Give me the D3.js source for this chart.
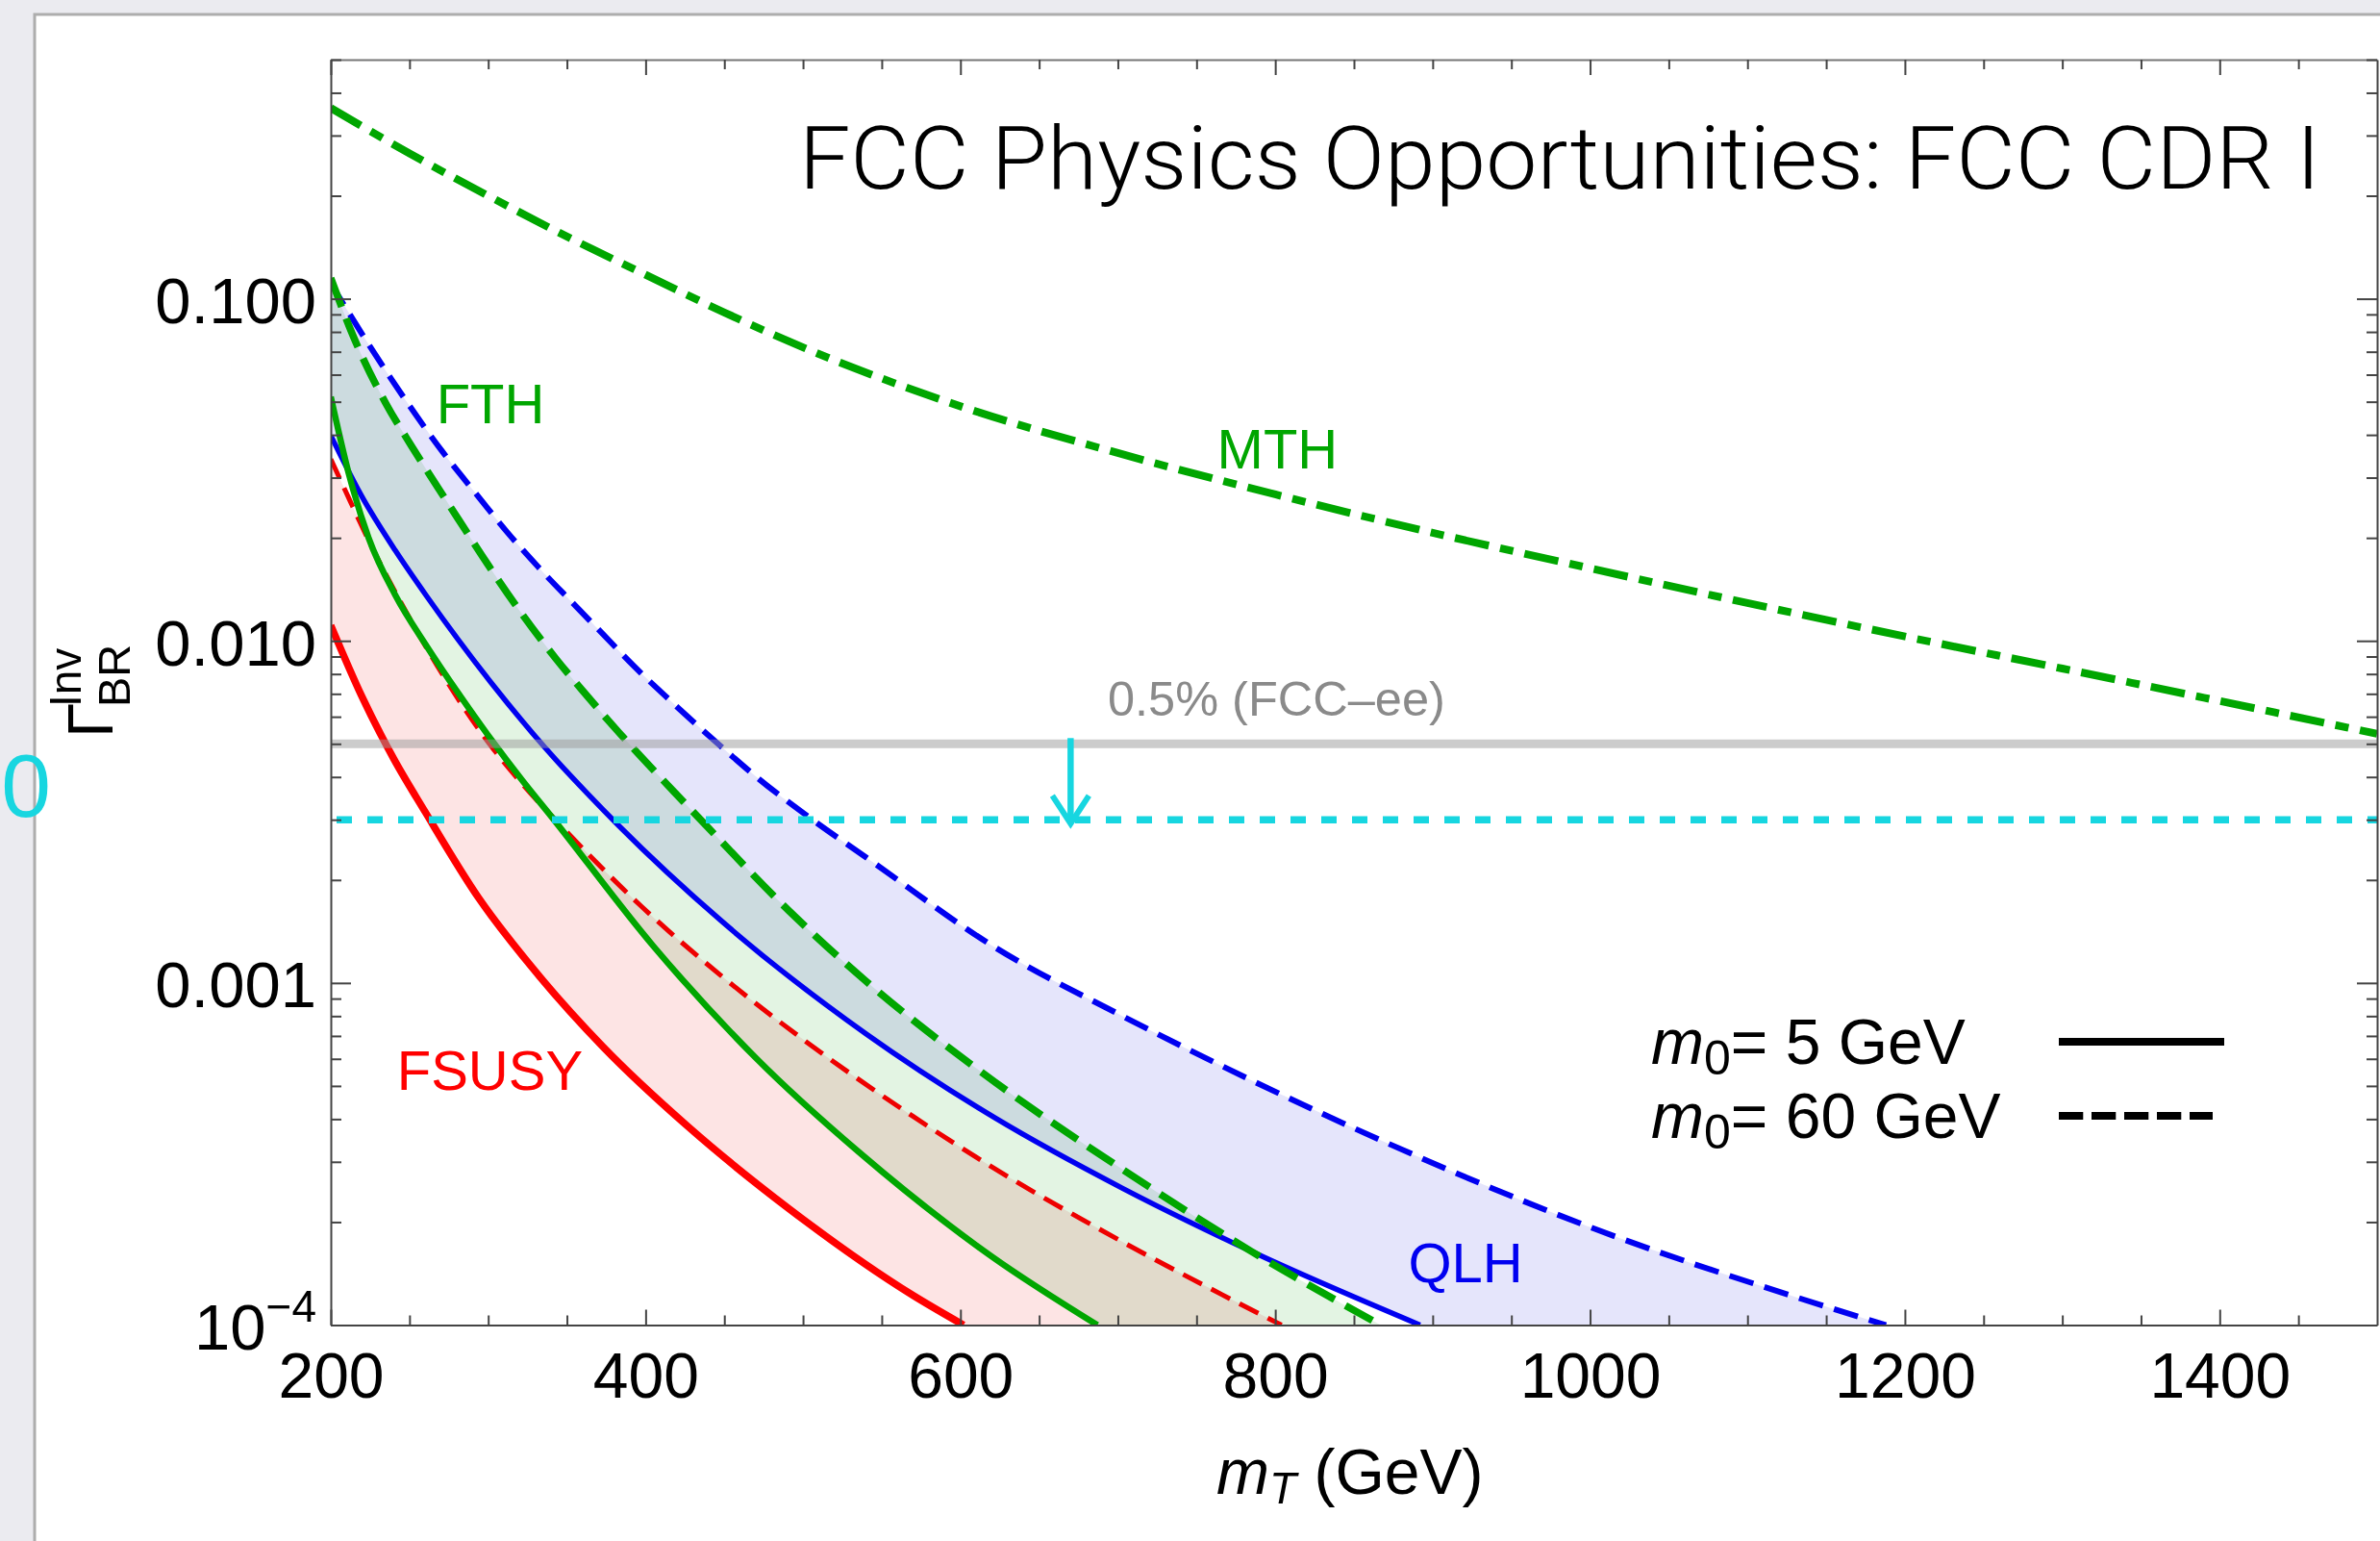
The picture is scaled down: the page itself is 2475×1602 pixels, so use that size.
<!DOCTYPE html>
<html lang="en">
<head>
<meta charset="utf-8">
<title>FCC Physics Opportunities: FCC CDR I</title>
<script src="https://cdn.jsdelivr.net/npm/d3@7"></script>
<style>
body { margin: 0; background: #ebebf0; }
svg { display: block; }
text { font-family: "Liberation Sans", Arial, Helvetica, sans-serif; }
</style>
</head>
<body>
<svg id="chart" width="2475" height="1602"></svg>
<script>
// values: m_T in GeV, invisible BR
var mMTH = [200, 250, 300, 350, 400, 450, 500, 600, 700, 800, 900, 1000, 1100, 1200, 1300, 1400, 1500];
var brMTH = [0.361, 0.266, 0.200, 0.152, 0.1175, 0.0912, 0.0721, 0.0485, 0.0354, 0.0268, 0.0207, 0.0163, 0.0129, 0.0103, 0.0083, 0.00667, 0.00535];

var mFTH5 = [200, 212, 224, 241, 261, 281, 302, 322, 340, 405, 470, 537, 620, 687];
var brFTH5 = [0.0517, 0.0301, 0.0200, 0.0136, 0.00964, 0.00703, 0.00514, 0.00389, 0.00307, 0.00128, 0.000604, 0.000316, 0.0001585, 0.0001];

var mFTH60 = [200, 214, 235, 251, 281, 302, 322, 343, 363, 383, 404, 424, 438, 491, 540, 622, 703, 785, 867];
var brFTH60 = [0.115, 0.0782, 0.0494, 0.0373, 0.0227, 0.01614, 0.01189, 0.00887, 0.00689, 0.0054, 0.00424, 0.00339, 0.0029, 0.001626, 0.001012, 0.000513, 0.000285, 0.000164, 0.0001];

var mQLH5 = [200, 220, 241, 261, 281, 302, 322, 343, 363, 383, 448, 540, 622, 703, 785, 892];
var brQLH5 = [0.0398, 0.0263, 0.01837, 0.01349, 0.01007, 0.00753, 0.0058, 0.00449, 0.00358, 0.00288, 0.00152, 0.00071, 0.000403, 0.000251, 0.000164, 0.0001];

var mQLH60 = [200, 225, 249, 271, 292, 312, 332, 353, 373, 393, 414, 434, 455, 469, 506, 540, 622, 703, 785, 867, 1003, 1130, 1188];
var brQLH60 = [0.111, 0.0724, 0.0494, 0.0357, 0.0270, 0.0208, 0.0164, 0.0130, 0.01045, 0.0084, 0.0068, 0.0056, 0.0046, 0.00405, 0.0030, 0.00233, 0.00127, 0.0008, 0.000519, 0.000347, 0.000191, 0.000121, 0.0001];

var mFSUSY5 = [200, 220, 240, 260, 294, 330, 373, 427, 491, 570, 602];
var brFSUSY5 = [0.0111, 0.00684, 0.00452, 0.00316, 0.00177, 0.00108, 0.00065, 0.00038, 0.000219, 0.000122, 0.0001];

var mFSUSY60 = [200, 212, 226, 241, 257, 277, 298, 322, 345, 397, 448, 500, 570, 621, 703, 804];
var brFSUSY60 = [0.034, 0.0258, 0.01884, 0.01387, 0.01023, 0.00721, 0.0052, 0.0038, 0.00292, 0.00168, 0.00105, 0.000684, 0.000407, 0.000288, 0.000175, 0.0001];

// reference lines and the arrow between them
var brFCCee = 0.005;
var brTarget = 0.003;
var arrowM = 670;

var xMajor = [200, 400, 600, 800, 1000, 1200, 1400];
var yMajor = [0.1, 0.01, 0.001, 0.0001];

var svg = d3.select("#chart");
var W = 2475, H = 1602;
var pL = 344, pR = 2472, pT = 62, pB = 1377.5;

var x = d3.scaleLinear().domain([200, 1500]).range([pL, pR]);
var y = d3.scaleLog().domain([1e-4, 0.5]).range([pB, pT]);

var green = "#00a600", blue = "#0000f0", red = "#ff0000", cyan = "#17d6e0";

// white panel
svg.append("rect")
    .attr("x", 36).attr("y", 15)
    .attr("width", W).attr("height", H)
    .attr("fill", "white")
    .attr("stroke", "#adadad")
    .attr("stroke-width", 3);

svg.append("clipPath").attr("id", "plotclip")
  .append("rect")
    .attr("x", pL).attr("y", pT)
    .attr("width", pR - pL).attr("height", pB - pT);

var plot = svg.append("g").attr("clip-path", "url(#plotclip)");
var bandG = plot.append("g");
var lineG = plot.append("g");

var line = d3.line()
    .x(function(d) { return x(d[0]); })
    .y(function(d) { return y(d[1]); })
    .curve(d3.curveMonotoneX);

function pairs(ms, vs) { return ms.map(function(m, i) { return [m, vs[i]]; }); }

var curves = {
    QLH5:    {d: pairs(mQLH5, brQLH5), color: blue, w: 5.5, dash: null},
    QLH60:   {d: pairs(mQLH60, brQLH60), color: blue, w: 6, dash: "26,12"},
    FSUSY5:  {d: pairs(mFSUSY5, brFSUSY5), color: red, w: 7.5, dash: null},
    FSUSY60: {d: pairs(mFSUSY60, brFSUSY60), color: "#ee0000", w: 5, dash: "22,11"},
    FTH5:    {d: pairs(mFTH5, brFTH5), color: green, w: 6.5, dash: null},
    FTH60:   {d: pairs(mFTH60, brFTH60), color: green, w: 7.5, dash: "32,13"},
    MTH:     {d: pairs(mMTH, brMTH), color: green, w: 8, dash: "36,12,14,12"}
};

Object.keys(curves).forEach(function(k) {
    var c = curves[k];
    c.node = lineG.append("path")
        .attr("d", line(c.d))
        .attr("fill", "none")
        .attr("stroke", c.color)
        .attr("stroke-width", c.w)
        .attr("stroke-dasharray", c.dash)
        .node();
});

function sample(node, n) {
    var L = node.getTotalLength(), pts = [];
    for (var i = 0; i <= n; i++) {
        var p = node.getPointAtLength(L * i / n);
        pts.push([p.x, p.y]);
    }
    return pts;
}

// bands between m0 = 5 GeV and m0 = 60 GeV curves
var bands = [
    {lo: "FSUSY5", hi: "FSUSY60", fill: "#fde4e4"},
    {lo: "FTH5", hi: "FTH60", fill: "#e3f4e3"},
    {lo: "QLH5", hi: "QLH60", fill: "#e5e5fb"}
];
bands.forEach(function(b) {
    var poly = sample(curves[b.hi].node, 500).concat(sample(curves[b.lo].node, 500).reverse());
    bandG.append("path")
        .attr("d", d3.line()(poly) + "Z")
        .attr("fill", b.fill)
        .style("mix-blend-mode", "multiply");
});

// 0.5% line (translucent grey) and cyan target line
plot.append("line")
    .attr("x1", pL).attr("x2", pR)
    .attr("y1", y(brFCCee)).attr("y2", y(brFCCee))
    .attr("stroke", "#999")
    .attr("stroke-opacity", 0.5)
    .attr("stroke-width", 9);

plot.append("line")
    .attr("x1", pL).attr("x2", pR)
    .attr("y1", y(brTarget)).attr("y2", y(brTarget))
    .attr("stroke", cyan)
    .attr("stroke-width", 7.5)
    .attr("stroke-dasharray", "16,16")
    .attr("stroke-dashoffset", -6);

var ax = x(arrowM), ay0 = y(brFCCee) - 6, ay1 = y(brTarget) + 4;
plot.append("line")
    .attr("x1", ax).attr("x2", ax).attr("y1", ay0).attr("y2", ay1 - 2)
    .attr("stroke", cyan).attr("stroke-width", 6.5);
plot.append("path")
    .attr("d", "M" + (ax - 19) + "," + (ay1 - 29) + "L" + ax + "," + ay1 + "L" + (ax + 19) + "," + (ay1 - 29))
    .attr("fill", "none")
    .attr("stroke", cyan).attr("stroke-width", 6);

// axes: ticks point inwards on all four sides
var tickCol = "#444";
function styleAxis(g) {
    g.selectAll("path.domain").attr("stroke", tickCol).attr("stroke-width", 2);
    g.selectAll(".tick line").attr("stroke", tickCol).attr("stroke-width", 2);
}

var xMinor = d3.range(250, 1500, 50).filter(function(v) { return v % 200 !== 0; });
var yMinor = [];
[-4, -3, -2, -1].forEach(function(e) {
    for (var k = 2; k <= 9; k++) {
        var v = k * Math.pow(10, e);
        if (v <= 0.5) yMinor.push(v);
    }
});

var bottomAxis = svg.append("g").attr("transform", "translate(0," + pB + ")");
bottomAxis.call(d3.axisBottom(x).tickValues(xMinor).tickSize(-10).tickSizeOuter(0).tickFormat(""));
bottomAxis.append("g").call(d3.axisBottom(x).tickValues(xMajor).tickSize(-16).tickSizeOuter(0).tickPadding(29).tickFormat(d3.format("d")))
    .call(function(g) {
        g.selectAll("text").attr("fill", "black").style("font-size", "66px")
            .style("font-family", "'Liberation Sans', Arial, sans-serif");
        g.select("path.domain").remove();
    });
styleAxis(bottomAxis);

var topAxis = svg.append("g").attr("transform", "translate(0," + pT + ")");
topAxis.call(d3.axisTop(x).tickValues(xMinor).tickSize(-10).tickSizeOuter(0).tickFormat(""));
topAxis.append("g").call(d3.axisTop(x).tickValues(xMajor).tickSize(-16).tickSizeOuter(0).tickFormat(""))
    .call(function(g) { g.select("path.domain").remove(); });
styleAxis(topAxis);
topAxis.selectAll("path.domain").attr("stroke", "#777");

var leftAxis = svg.append("g").attr("transform", "translate(" + pL + ",0)");
leftAxis.call(d3.axisLeft(y).tickValues(yMinor).tickSize(-11).tickSizeOuter(0).tickFormat(""));
leftAxis.append("g").call(d3.axisLeft(y).tickValues(yMajor).tickSize(-21).tickSizeOuter(0).tickPadding(15)
        .tickFormat(function(d) { return d < 0.001 ? "10" : d3.format(".3f")(d); }))
    .call(function(g) {
        g.select("path.domain").remove();
        g.selectAll("text").attr("fill", "black").attr("dy", "0.37em").style("font-size", "67px")
            .style("font-family", "'Liberation Sans', Arial, sans-serif");
        g.selectAll(".tick").filter(function(d) { return d < 0.001; }).select("text")
          .append("tspan")
            .attr("dy", -29)
            .style("font-size", "46px")
            .text("\u22124");
    });
styleAxis(leftAxis);

var rightAxis = svg.append("g").attr("transform", "translate(" + pR + ",0)");
rightAxis.call(d3.axisRight(y).tickValues(yMinor).tickSize(-11).tickSizeOuter(0).tickFormat(""));
rightAxis.append("g").call(d3.axisRight(y).tickValues(yMajor).tickSize(-21).tickSizeOuter(0).tickFormat(""))
    .call(function(g) { g.select("path.domain").remove(); });
styleAxis(rightAxis);

// axis titles
var xt = svg.append("text").attr("x", 1265).attr("y", 1553).style("font-size", "66px");
xt.append("tspan").style("font-style", "italic").text("m");
xt.append("tspan").style("font-style", "italic").style("font-size", "46px").attr("dy", 10).text("T");
xt.append("tspan").attr("dy", -10).text(" (GeV)");

var yt = svg.append("g").attr("transform", "translate(117,767) rotate(-90)");
yt.append("text").attr("x", 0).attr("y", 0).style("font-size", "66px").text("\u0393");
yt.append("text").attr("x", 32).attr("y", -33).style("font-size", "46px").text("Inv");
yt.append("text").attr("x", 32).attr("y", 18).style("font-size", "47px").text("BR");

// clipped cyan label at the far left
svg.append("text")
    .attr("x", 53).attr("y", 849)
    .attr("text-anchor", "end")
    .attr("fill", cyan)
    .style("font-size", "93px")
    .text("0");

// title
svg.append("text")
    .attr("x", 2413).attr("y", 196)
    .attr("text-anchor", "end")
    .attr("textLength", 1582)
    .attr("lengthAdjust", "spacingAndGlyphs")
    .style("font-family", "Roboto, 'Liberation Sans', sans-serif")
    .style("font-weight", 300)
    .style("font-size", "90px")
    .text("FCC Physics Opportunities: FCC CDR I");

// model labels placed in data coordinates
var labels = [
    {t: "FTH", m: 267, v: 0.0434, c: green, s: 58},
    {t: "MTH", m: 763, v: 0.032, c: green, s: 58},
    {t: "QLH", m: 884.5, v: 1.33e-4, c: blue, s: 58},
    {t: "FSUSY", m: 242, v: 4.86e-4, c: red, s: 58},
    {t: "0.5% (FCC\u2013ee)", m: 693.6, v: 0.00603, c: "#8a8a8a", s: 50.5}
];
svg.selectAll("text.lbl").data(labels).enter().append("text")
    .attr("class", "lbl")
    .attr("x", function(d) { return x(d.m); })
    .attr("y", function(d) { return y(d.v); })
    .attr("fill", function(d) { return d.c; })
    .style("font-size", function(d) { return d.s + "px"; })
    .text(function(d) { return d.t; });

// legend
var legend = [{m0: "5", dash: null, y: 1106, len: 172}, {m0: "60", dash: "25.3,8.7", y: 1183, len: 160}];
legend.forEach(function(l) {
    var t = svg.append("text").attr("x", 1717).attr("y", l.y).style("font-size", "66px");
    t.append("tspan").style("font-style", "italic").text("m");
    t.append("tspan").style("font-size", "50px").attr("dy", 11).text("0");
    t.append("tspan").attr("dy", -11).text("= " + l.m0 + " GeV");
    svg.append("line")
        .attr("x1", 2141).attr("x2", 2141 + l.len)
        .attr("y1", l.y - 23).attr("y2", l.y - 23)
        .attr("stroke", "black")
        .attr("stroke-width", 8)
        .attr("stroke-dasharray", l.dash);
});
</script>
</body>
</html>
